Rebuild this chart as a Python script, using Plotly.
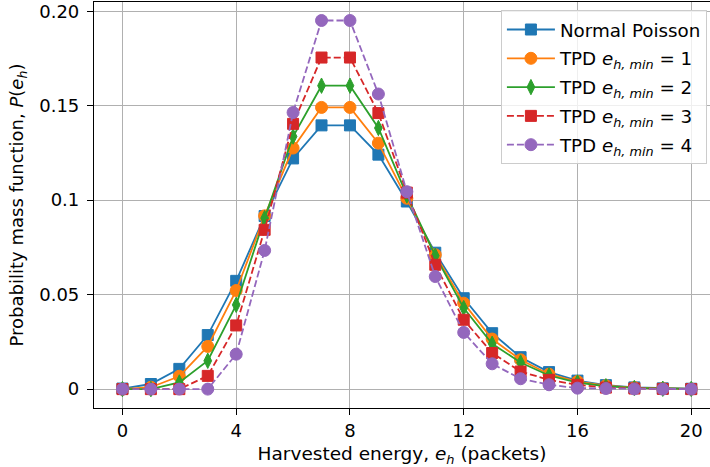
import plotly.graph_objects as go

# Harvested energy levels (packets)
energy = list(range(21))

# Probability mass functions
normal_poisson = [0.0003, 0.0027, 0.0107, 0.0286, 0.0573, 0.0916, 0.1221, 0.1396, 0.1396, 0.1241,
                  0.0993, 0.0722, 0.0481, 0.0296, 0.0169, 0.0090, 0.0045, 0.0021, 0.0009, 0.0004, 0.0002]
tpd_min1 = [0.0, 0.0010, 0.0068, 0.0226, 0.0522, 0.0917, 0.1276, 0.1491, 0.1491, 0.1302,
            0.1010, 0.0711, 0.0455, 0.0265, 0.0155, 0.0079, 0.0040, 0.0018, 0.0008, 0.0003, 0.0001]
tpd_min2 = [0.0, 0.0, 0.0035, 0.0150, 0.0446, 0.0905, 0.1337, 0.1606, 0.1606, 0.1382,
            0.1025, 0.0706, 0.0429, 0.0240, 0.0141, 0.0072, 0.0035, 0.0015, 0.0006, 0.0002, 0.0001]
tpd_min3 = [0.0, 0.0, 0.0, 0.0070, 0.0337, 0.0843, 0.1404, 0.1755, 0.1755, 0.1461,
            0.1040, 0.0658, 0.0367, 0.0191, 0.0093, 0.0049, 0.0023, 0.0008, 0.0003, 0.0001, 0.0]
tpd_min4 = [0.0, 0.0, 0.0, 0.0, 0.0185, 0.0734, 0.1464, 0.1951, 0.1951, 0.1562,
            0.1045, 0.0596, 0.0300, 0.0134, 0.0055, 0.0023, 0.0005, 0.0003, 0.0001, 0.0, 0.0]

x_ticks = [0, 4, 8, 12, 16, 20]
y_ticks = [0, 0.05, 0.1, 0.15, 0.20]
y_tick_labels = ["0", "0.05", "0.1", "0.15", "0.20"]

FONT = "DejaVu Sans"

series = [
    ("Normal Poisson", normal_poisson, "#1f77b4", "square", 11, "solid"),
    ("TPD <i>e</i><sub><i>h, min</i></sub> = 1", tpd_min1, "#ff7f0e", "circle", 12, "solid"),
    ("TPD <i>e</i><sub><i>h, min</i></sub> = 2", tpd_min2, "#2ca02c", "diamond-tall", 11, "solid"),
    ("TPD <i>e</i><sub><i>h, min</i></sub> = 3", tpd_min3, "#d62728", "square", 11, "dash"),
    ("TPD <i>e</i><sub><i>h, min</i></sub> = 4", tpd_min4, "#9467bd", "circle", 12, "dash"),
]

fig = go.Figure()
for i, (name, vals, color, symbol, size, dash) in enumerate(series):
    fig.add_trace(go.Scatter(
        x=energy, y=vals, name=name, mode="lines+markers", legendgroup=f"g{i}",
        line=dict(color=color, width=1.8, dash="7px,3px" if dash == "dash" else "solid"),
        marker=dict(symbol=symbol, size=size, color=color, line=dict(color=color, width=1)),
    ))

axis_common = dict(
    showgrid=True, gridcolor="#b0b0b0", gridwidth=1, zeroline=False,
    showline=True, linecolor="black", linewidth=1.2,
    ticks="outside", ticklen=6, tickwidth=1, tickcolor="black",
    tickfont=dict(family=FONT, size=18, color="black"),
)

fig.update_layout(
    width=710, height=467,
    margin=dict(l=94, r=0, t=2, b=59),
    paper_bgcolor="white", plot_bgcolor="white",
    font=dict(family=FONT, size=18, color="black"),
    xaxis=dict(
        range=[-1, 20.66], tickvals=x_ticks, mirror=True,
        title=dict(text="Harvested energy, <i>e</i><sub><i>h</i></sub> (packets)",
                   font=dict(family=FONT, size=18.5), standoff=9),
        **axis_common,
    ),
    yaxis=dict(
        range=[-0.0100, 0.2049], tickvals=y_ticks, ticktext=y_tick_labels,
        ticklabelstandoff=4,
        title=dict(text="Probability mass function, <i>P</i>(<i>e</i><sub><i>h</i></sub>)",
                   font=dict(family=FONT, size=18), standoff=10),
        **axis_common,
    ),
    legend=dict(
        x=0.995, y=0.98, xanchor="right", yanchor="top",
        bgcolor="rgba(255,255,255,0.8)", bordercolor="#cccccc", borderwidth=1,
        font=dict(family=FONT, size=18.3, color="black"),
        itemwidth=48, tracegroupgap=2,
    ),
    showlegend=True,
)

fig.write_html("out.html")
